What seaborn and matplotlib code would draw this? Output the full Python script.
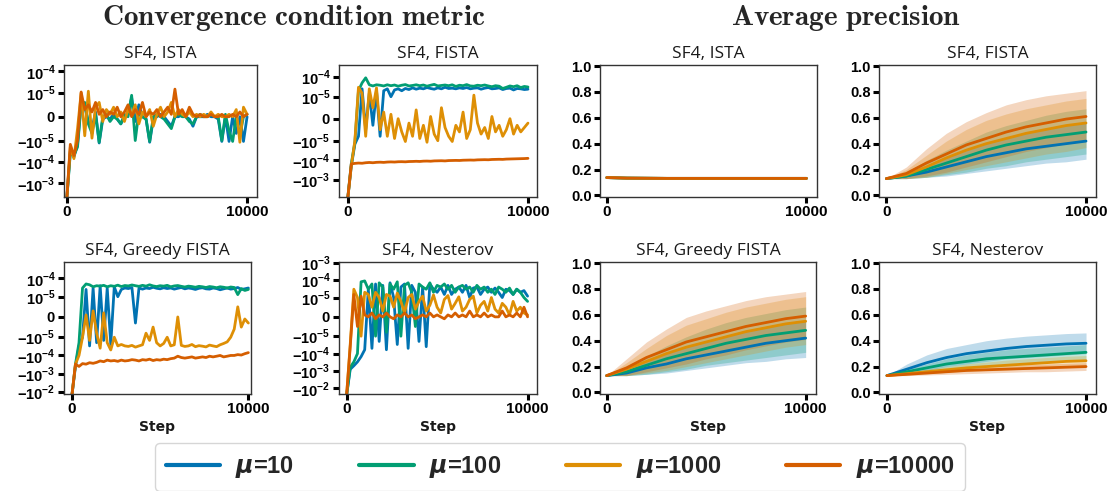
import numpy as np
import pandas as pd
import matplotlib
matplotlib.use("Agg")
import matplotlib.pyplot as plt
import seaborn as sns
from matplotlib.lines import Line2D
from matplotlib.ticker import FixedLocator, FuncFormatter

# ---- data -------------------------------------------------------------
MU_LABELS = ["10", "100", "1000", "10000"]

# convergence condition metric, values in units of 1e-5, one point every 200 steps
CONV_UNIT = 1e-5

ista_mu10 = [-600, -3, -6, -1.5, 0.6, 0.4, -0.2, -0.5, 0.2, -1.3, -0.1, 0.0, -0.1, 0.1, -0.1, -0.3, 0.0,
             0.1, 0.8, -0.2, 0.5, 0.0, -0.1, -1.2, -0.1, 0.0, 0.1, 0.0, -0.2, -0.4, 0.0, 0.0, 0.1, 0.0,
             -0.1, -0.4, 0.0, 0.0, 0.0, 0.1, 0.0, 0.0, -0.1, -1.1, 0.0, -1.1, 0.0, -0.7, 0.0, -1.1, 0.0]
ista_mu100 = [-600, -4, -5, -2, 0.5, 0.6, -0.3, -0.7, 0.1, -1.2, 0.0, 0.1, -0.2, 0.0, -0.1, -0.3, 0.1,
              0.0, 0.9, -1.0, 0.2, 0.0, -0.1, -1.1, 0.0, 0.1, 0.0, -0.1, -0.3, -0.5, 0.0, 0.1, 0.0, 0.0,
              -0.2, -0.3, 0.0, 0.1, 0.0, 0.0, 0.1, 0.0, 0.0, -1.0, 0.1, -0.6, -1.1, 0.0, -0.8, 0.0, 0.1]
ista_mu1000 = [-600, -2, -7, -0.5, 1.0, -0.8, 1.2, -0.9, 0.4, 0.6, -0.2, 0.3, 0.1, 0.4, 0.0, 0.2, -0.2,
               0.3, 0.1, 0.5, -0.3, 0.2, 0.0, 0.3, -0.4, 0.1, 0.4, 0.0, 0.2, 0.6, 0.0, 0.3, 0.1, 0.0,
               0.2, 0.0, 0.1, 0.0, 0.1, 0.0, 0.2, 0.0, 0.1, 0.0, 0.0, 0.1, 0.0, 0.3, -1.2, 0.4, 0.1]
ista_mu10000 = [-600, -1.5, -5, -1, 1.1, 0.3, 0.5, 0.2, 0.6, 0.1, 0.3, 0.0, 0.2, 0.1, 0.4, 0.0, 0.2,
                0.5, 0.0, 0.3, 0.1, 0.6, 0.0, 0.2, 0.1, 0.3, 0.0, 0.2, 0.4, 0.1, 1.5, 0.1, 0.3, 0.0,
                0.4, 0.1, 0.0, 0.1, 0.0, 0.0, 0.1, 0.0, 0.0, 0.1, 0.0, 0.0, 0.1, 0.0, 0.2, 0.0, 0.1]

fista_mu10 = [-900, -20, -1.5, -0.8, 2.5, -0.5, 1.5, -0.3, 2.0, -0.8, 2.0, 2.5, 1.0, 2.2, 2.5, 2.0, 2.6,
              2.3, 2.8, 2.4, 2.7, 2.5, 2.9, 2.6, 2.4, 2.8, 2.5, 3.0, 2.6, 2.7, 2.5, 2.8, 2.6, 2.9, 2.5,
              2.7, 2.8, 2.4, 2.7, 2.9, 2.5, 2.6, 2.8, 2.3, 2.6, 2.7, 2.2, 2.6, 2.5, 2.3, 2.4]
fista_mu100 = [-900, -15, -1.2, 2, 5, 9, 4, 3.5, 4, 3.8, 3.5, 4.0, 3.6, 3.9, 3.4, 3.8, 4.1, 3.5, 3.7,
               4.0, 3.6, 3.9, 3.4, 3.8, 4.2, 3.5, 3.7, 3.9, 3.6, 4.0, 3.3, 3.8, 3.6, 4.1, 3.5, 3.4, 3.8,
               3.6, 3.9, 3.5, 3.2, 3.6, 3.4, 2.6, 3.0, 3.5, 3.2, 3.6, 2.9, 3.3, 3.1]
fista_mu1000 = [-900, -20, -1, 3, 1.5, -0.8, 2.5, 0.5, 2.8, -0.5, 0.3, -0.8, 0.2, -0.9, 0.0, -0.6,
                -1.1, -0.2, -0.8, 0.4, -0.9, -0.3, -1.2, 0.1, -0.7, -1.0, 0.5, -0.4, -0.8, -1.1, -0.3,
                -0.6, 0.3, -0.9, -0.5, 1.2, -0.2, -0.7, -0.4, -0.9, 0.1, -0.6, -0.3, -0.8, -0.5, 0.0,
                -0.7, -0.3, -0.6, -0.4, -0.2]
fista_mu10000 = [-900, -15, -14, -13.5, -13.8, -13, -12.6, -13, -12.4, -12.2, -12.5, -12, -11.8, -12,
                 -11.6, -11.5, -11.7, -11.3, -11.2, -11, -11.2, -10.8, -10.7, -10.9, -10.5, -10.4,
                 -10.3, -10.5, -10.1, -10, -9.9, -10, -9.7, -9.6, -9.5, -9.6, -9.3, -9.2, -9.1, -9.2,
                 -8.9, -8.8, -8.7, -8.8, -8.5, -8.4, -8.3, -8.2, -8.1, -8.0, -7.8]

greedy_mu10 = [-1500, -40, -3, -1, 2.5, -3, 3, -2, 4, -1.5, 3, -2.5, 3.5, 1.0, 2.5, 3, 2.8, 3.2, -0.3,
               3, 2.6, 3.0, 2.8, 3.3, 2.9, 2.7, 3.1, 2.8, 3.0, 2.6, 2.9, 3.2, 2.7, 3.0, 2.8, 2.5, 2.9,
               3.1, 2.7, 2.6, 3.0, 2.8, 2.4, 2.7, 3.0, 2.6, 2.8, 3.2, 2.5, 2.7, 3.0]
greedy_mu100 = [-1500, -30, -2, 3, 5, 4.5, 3.5, 4, 3.8, 4.2, 3.5, 4, 3.7, 4.3, 3.6, 4.1, 3.9, 4.4, 4.0,
                3.7, 4.2, 3.8, 4.5, 3.9, 3.6, 4.0, 3.8, 4.2, 3.5, 3.9, 4.1, 3.7, 3.4, 3.8, 3.6, 3.3,
                3.7, 3.5, 3.2, 3.6, 3.4, 3.1, 3.5, 3.3, 3.0, 3.4, 3.2, 1.3, 2.8, 2.2, 2.5]
greedy_mu1000 = [-1500, -30, -10, -1, 0.1, -1.5, 0.3, -0.8, -4, 0.2, -2, -5, -1, -3, -2.5, -3, -3.2,
                 -2.8, -3.5, -3, -2.6, -0.8, -1.5, -0.5, -2, -3, -2.2, -1, -3, -2.6, 0.0, -2.8, -3.2,
                 -3, -2.5, -3.3, -2.9, -3.1, -3.4, -2.7, -3, -3.3, -2.6, -2.2, -1.8, -1, -0.6, 0.5,
                 -0.5, -0.1, -0.3]
greedy_mu10000 = [-1500, -30, -40, -28, -30, -25, -27, -24, -20, -22, -18, -20, -19, -21, -18, -20,
                  -19, -17, -18, -20, -17, -18, -16, -19, -17, -18, -16, -17, -15, -14, -11, -13, -14,
                  -13, -12, -14, -13, -12, -13, -11, -12, -11, -10, -12, -11, -10, -10, -9, -9.5, -8, -7]

nest_mu10 = [-2500, -80, -50, -30, -15, -6, 3, -5, 6, -2, 5, -6, 7, 1, -3, 4, 6, -5, 5, 2, -2, 4, -4,
             6, 3, 2, 4, 1.5, 5, 1.5, 3, 4, 2, 5, 1, 3.5, 4, 1.5, 3, 4, 2, 3.5, 2, 1, 3, 2.5, 1.5, 3, 2,
             2.5, 1.2]
nest_mu100 = [-2500, -60, -30, -10, 8, 9, 3, 6, -1, 7, 4, -0.8, 6, 3, 8, -1, 5, 7, 2, -0.5, 6, 4, 3, 7,
              2, 5, 4, 6, 3, 5, 2, 4, 5, 3, 4, 2, 5, 3, 4, 2, 3, 1.5, 4, 3, 2, 3.5, 1.5, 3, 2, 1, 0.8]
nest_mu1000 = [-2500, -3, 3, 1, -1, 2, 1.5, 0.5, 2, 1, 0.3, 1.5, 1.2, 0.5, 1.8, 0.8, 0.2, 1, 1.5, 0.4,
               0.8, 1.2, 0.3, 0.6, 1.4, 0.5, 0.2, 0.9, 1.3, 0.4, 0.7, 1.1, 0.3, 0.5, 0.9, 1.2, 0.2, 0.6,
               0.8, 0.3, 1, 0.4, 0.2, 0.7, 0.5, 0.1, 0.8, 0.3, 0.5, 0.2, 0.1]
nest_mu10000 = [-2500, -4, 1.5, -0.5, 1.2, 0.1, 0.0, 0.2, -0.1, 0.1, 0.0, 0.2, 0.0, -0.1, 0.1, 0.0,
                0.2, 0.0, 0.1, -0.1, 0.0, 0.1, 0.0, 0.2, 0.0, 0.1, 0.0, -0.1, 0.1, 0.0, 0.2, 0.0, 0.1,
                0.0, 0.3, 0.0, 0.1, 0.0, 0.2, 0.0, 0.1, 0.0, 0.0, 0.3, 0.0, 0.1, 0.0, 0.2, 0.0, 0.5, 0.0]

# average precision, one point every 1000 steps: (mean, low, high)
ap_ista_mean = [0.138, 0.134, 0.133, 0.132, 0.132, 0.132, 0.132, 0.132, 0.132, 0.132, 0.132]
ap_ista_low = [0.136, 0.132, 0.131, 0.130, 0.130, 0.130, 0.130, 0.130, 0.130, 0.130, 0.130]
ap_ista_high = [0.140, 0.136, 0.135, 0.134, 0.134, 0.134, 0.134, 0.134, 0.134, 0.134, 0.134]

ap_fista_mean = [
    [0.13, 0.15, 0.18, 0.22, 0.26, 0.30, 0.33, 0.36, 0.38, 0.40, 0.42],
    [0.13, 0.15, 0.20, 0.25, 0.30, 0.35, 0.39, 0.42, 0.45, 0.47, 0.49],
    [0.13, 0.16, 0.22, 0.29, 0.35, 0.40, 0.44, 0.48, 0.51, 0.54, 0.56],
    [0.13, 0.17, 0.25, 0.32, 0.39, 0.44, 0.49, 0.53, 0.56, 0.59, 0.61],
]
ap_fista_low = [
    [0.13, 0.13, 0.14, 0.15, 0.17, 0.19, 0.21, 0.23, 0.25, 0.26, 0.28],
    [0.13, 0.13, 0.14, 0.16, 0.18, 0.21, 0.23, 0.26, 0.28, 0.30, 0.32],
    [0.13, 0.13, 0.14, 0.17, 0.20, 0.23, 0.26, 0.29, 0.32, 0.34, 0.37],
    [0.13, 0.13, 0.15, 0.18, 0.22, 0.26, 0.30, 0.34, 0.37, 0.40, 0.42],
]
ap_fista_high = [
    [0.13, 0.17, 0.23, 0.29, 0.35, 0.40, 0.44, 0.48, 0.51, 0.54, 0.57],
    [0.13, 0.18, 0.27, 0.35, 0.42, 0.49, 0.54, 0.58, 0.62, 0.65, 0.67],
    [0.13, 0.20, 0.31, 0.42, 0.51, 0.58, 0.63, 0.67, 0.70, 0.73, 0.75],
    [0.13, 0.22, 0.36, 0.48, 0.57, 0.64, 0.70, 0.74, 0.77, 0.79, 0.81],
]

ap_greedy_mean = [
    [0.13, 0.15, 0.19, 0.22, 0.26, 0.29, 0.32, 0.35, 0.38, 0.40, 0.42],
    [0.13, 0.16, 0.21, 0.26, 0.30, 0.34, 0.38, 0.41, 0.44, 0.46, 0.48],
    [0.13, 0.18, 0.24, 0.30, 0.35, 0.39, 0.43, 0.47, 0.50, 0.53, 0.55],
    [0.13, 0.19, 0.27, 0.33, 0.39, 0.43, 0.47, 0.51, 0.54, 0.57, 0.59],
]
ap_greedy_low = [
    [0.13, 0.13, 0.14, 0.15, 0.17, 0.19, 0.21, 0.23, 0.24, 0.26, 0.27],
    [0.13, 0.13, 0.14, 0.16, 0.18, 0.21, 0.23, 0.25, 0.27, 0.29, 0.31],
    [0.13, 0.13, 0.15, 0.17, 0.20, 0.23, 0.26, 0.29, 0.32, 0.35, 0.37],
    [0.13, 0.13, 0.16, 0.19, 0.22, 0.26, 0.29, 0.33, 0.36, 0.39, 0.41],
]
ap_greedy_high = [
    [0.13, 0.18, 0.24, 0.30, 0.35, 0.40, 0.44, 0.48, 0.51, 0.54, 0.56],
    [0.13, 0.20, 0.28, 0.36, 0.43, 0.49, 0.54, 0.58, 0.61, 0.64, 0.66],
    [0.13, 0.23, 0.34, 0.44, 0.52, 0.57, 0.62, 0.66, 0.69, 0.72, 0.74],
    [0.13, 0.26, 0.39, 0.49, 0.58, 0.63, 0.67, 0.71, 0.74, 0.76, 0.78],
]

ap_nest_mean = [
    [0.13, 0.18, 0.23, 0.27, 0.30, 0.32, 0.34, 0.355, 0.365, 0.375, 0.38],
    [0.13, 0.16, 0.19, 0.22, 0.24, 0.26, 0.27, 0.28, 0.29, 0.30, 0.31],
    [0.13, 0.145, 0.16, 0.175, 0.19, 0.20, 0.21, 0.22, 0.23, 0.24, 0.245],
    [0.13, 0.14, 0.15, 0.16, 0.17, 0.175, 0.18, 0.185, 0.19, 0.195, 0.20],
]
ap_nest_low = [
    [0.13, 0.14, 0.17, 0.20, 0.22, 0.24, 0.26, 0.27, 0.28, 0.29, 0.30],
    [0.13, 0.14, 0.16, 0.18, 0.19, 0.21, 0.22, 0.23, 0.24, 0.25, 0.25],
    [0.13, 0.135, 0.145, 0.155, 0.165, 0.17, 0.175, 0.18, 0.19, 0.195, 0.20],
    [0.13, 0.13, 0.135, 0.14, 0.145, 0.15, 0.155, 0.16, 0.16, 0.165, 0.17],
]
ap_nest_high = [
    [0.13, 0.22, 0.29, 0.34, 0.37, 0.40, 0.42, 0.435, 0.445, 0.455, 0.46],
    [0.13, 0.18, 0.22, 0.26, 0.29, 0.31, 0.33, 0.34, 0.35, 0.36, 0.37],
    [0.13, 0.155, 0.18, 0.20, 0.22, 0.235, 0.25, 0.26, 0.27, 0.28, 0.285],
    [0.13, 0.15, 0.165, 0.18, 0.19, 0.20, 0.21, 0.215, 0.22, 0.225, 0.23],
]

# ---- style ------------------------------------------------------------
sns.set_theme(style="ticks")
pal = sns.color_palette("colorblind")
COLORS = [pal[0], pal[2], pal[1], pal[3]]
plt.rcParams["font.family"] = ["Liberation Sans", "DejaVu Sans"]
plt.rcParams["font.weight"] = "bold"
plt.rcParams["mathtext.fontset"] = "custom"
plt.rcParams["mathtext.rm"] = "Liberation Sans:bold"
plt.rcParams["mathtext.bf"] = "Liberation Sans:bold"
plt.rcParams["mathtext.it"] = "DejaVu Sans:italic:bold"

fig = plt.figure(figsize=(11.09, 4.91), dpi=100)
W, H = 1109, 491


def add_ax(left, top, right, bottom):
    return fig.add_axes([left / W, 1 - bottom / H, (right - left) / W, (bottom - top) / H])


def sym_fmt(v, pos):
    if v == 0:
        return "$0$"
    e = int(round(np.log10(abs(v))))
    sign = "-" if v < 0 else ""
    return rf"${sign}10^{{{e}}}$"


def style_ax(ax, title, xlim, xlabel):
    ax.set_title(title, fontsize=12.5, fontweight="normal", family="Open Sans", pad=5, color="#1a1a1a")
    ax.set_xlim(*xlim)
    ax.set_xticks([0, 10000])
    ax.tick_params(axis="both", width=2.2, length=4, color="black", pad=2, labelcolor="black")
    ax.tick_params(axis="x", labelsize=11)
    ax.tick_params(axis="y", labelsize=10.5)
    for s in ax.spines.values():
        s.set_linewidth(1.0)
        s.set_color("#333333")
    ax.set_ylabel("")
    if xlabel:
        ax.set_xlabel("Step", fontsize=10, fontweight="bold", family="DejaVu Sans", labelpad=3,
                      color="#1a1a1a")
    else:
        ax.set_xlabel("")


def draw_conv(ax, title, series, ylim, yticks, xlim, xlabel=False):
    frames = []
    for mu, vals in zip(MU_LABELS, series):
        steps = np.linspace(0, 10000, len(vals))
        frames.append(pd.DataFrame({"step": steps, "value": np.array(vals) * CONV_UNIT, "mu": mu}))
    df = pd.concat(frames, ignore_index=True)
    sns.lineplot(data=df, x="step", y="value", hue="mu", hue_order=MU_LABELS, palette=COLORS,
                 ax=ax, legend=False, lw=2, errorbar=None)
    ax.set_yscale("symlog", linthresh=1e-5)
    ax.set_ylim(*ylim)
    ax.yaxis.set_major_locator(FixedLocator(yticks))
    ax.yaxis.set_minor_locator(FixedLocator([]))
    ax.yaxis.set_major_formatter(FuncFormatter(sym_fmt))
    style_ax(ax, title, xlim, xlabel)


def draw_ap(ax, title, means, lows, highs, xlim, xlabel=False):
    frames = []
    for mu, m, lo, hi, c in zip(MU_LABELS, means, lows, highs, COLORS):
        steps = np.linspace(0, 10000, len(m))
        ax.fill_between(steps, lo, hi, color=c, alpha=0.25, lw=0)
        frames.append(pd.DataFrame({"step": steps, "value": m, "mu": mu}))
    df = pd.concat(frames, ignore_index=True)
    sns.lineplot(data=df, x="step", y="value", hue="mu", hue_order=MU_LABELS, palette=COLORS,
                 ax=ax, legend=False, lw=2, errorbar=None)
    ax.set_ylim(-0.012, 1.008)
    ax.set_yticks([0.0, 0.2, 0.4, 0.6, 0.8, 1.0])
    ax.yaxis.set_major_formatter(FuncFormatter(lambda v, p: f"{v:.1f}"))
    style_ax(ax, title, xlim, xlabel)


tick_a = [-1e-3, -1e-4, -1e-5, 0, 1e-5, 1e-4]
tick_b = [-1e-2, -1e-3, -1e-4, -1e-5, 0, 1e-5, 1e-4]
tick_c = [-1e-2, -1e-3, -1e-4, -1e-5, 0, 1e-5, 1e-4, 1e-3]

ax = add_ax(64, 65, 257, 197)
draw_conv(ax, "SF4, ISTA", [ista_mu10, ista_mu100, ista_mu1000, ista_mu10000],
          (-4.3e-3, 2e-4), tick_a, (-150, 10550))
ax = add_ax(339, 65, 537, 197)
draw_conv(ax, "SF4, FISTA", [fista_mu10, fista_mu100, fista_mu1000, fista_mu10000],
          (-7e-3, 4e-4), tick_a, (-480, 10500))
ax = add_ax(64, 262, 251, 394)
draw_conv(ax, "SF4, Greedy FISTA", [greedy_mu10, greedy_mu100, greedy_mu1000, greedy_mu10000],
          (-1.3e-2, 8e-4), tick_b, (-450, 10150), xlabel=True)
ax = add_ax(339, 262, 537, 394)
draw_conv(ax, "SF4, Nesterov", [nest_mu10, nest_mu100, nest_mu1000, nest_mu10000],
          (-2.1e-2, 1.1e-3), tick_c, (-420, 10520), xlabel=True)

ax = add_ax(600, 65, 817, 197)
draw_ap(ax, "SF4, ISTA", [ap_ista_mean] * 4, [ap_ista_low] * 4, [ap_ista_high] * 4, (-340, 10530))
ax = add_ax(879, 65, 1096, 197)
draw_ap(ax, "SF4, FISTA", ap_fista_mean, ap_fista_low, ap_fista_high, (-370, 10500))
ax = add_ax(600, 262, 816, 394)
draw_ap(ax, "SF4, Greedy FISTA", ap_greedy_mean, ap_greedy_low, ap_greedy_high, (-335, 10520),
        xlabel=True)
ax = add_ax(879, 262, 1096, 394)
draw_ap(ax, "SF4, Nesterov", ap_nest_mean, ap_nest_low, ap_nest_high, (-400, 10500), xlabel=True)

fig.text(294 / W, 1 - 18 / H, r"$\mathbf{Convergence\ condition\ metric}$", math_fontfamily="cm",
         fontsize=21, ha="center", va="center")
fig.text(846 / W, 1 - 18 / H, r"$\mathbf{Average\ precision}$", math_fontfamily="cm",
         fontsize=21, ha="center", va="center")

handles = [Line2D([], [], color=c, lw=3) for c in COLORS]
labels = [rf"$\mu$={m}" for m in MU_LABELS]
fig.legend(handles, labels, loc="center", bbox_to_anchor=(560 / W, 1 - 467 / H), ncol=4,
           prop={"family": ["Liberation Sans Narrow", "Liberation Sans"], "weight": "bold", "size": 17},
           handlelength=2.3, handletextpad=0.65, columnspacing=2.75, borderpad=0.45,
           frameon=True, edgecolor="#cccccc")

fig.savefig("out.png", dpi=100)
